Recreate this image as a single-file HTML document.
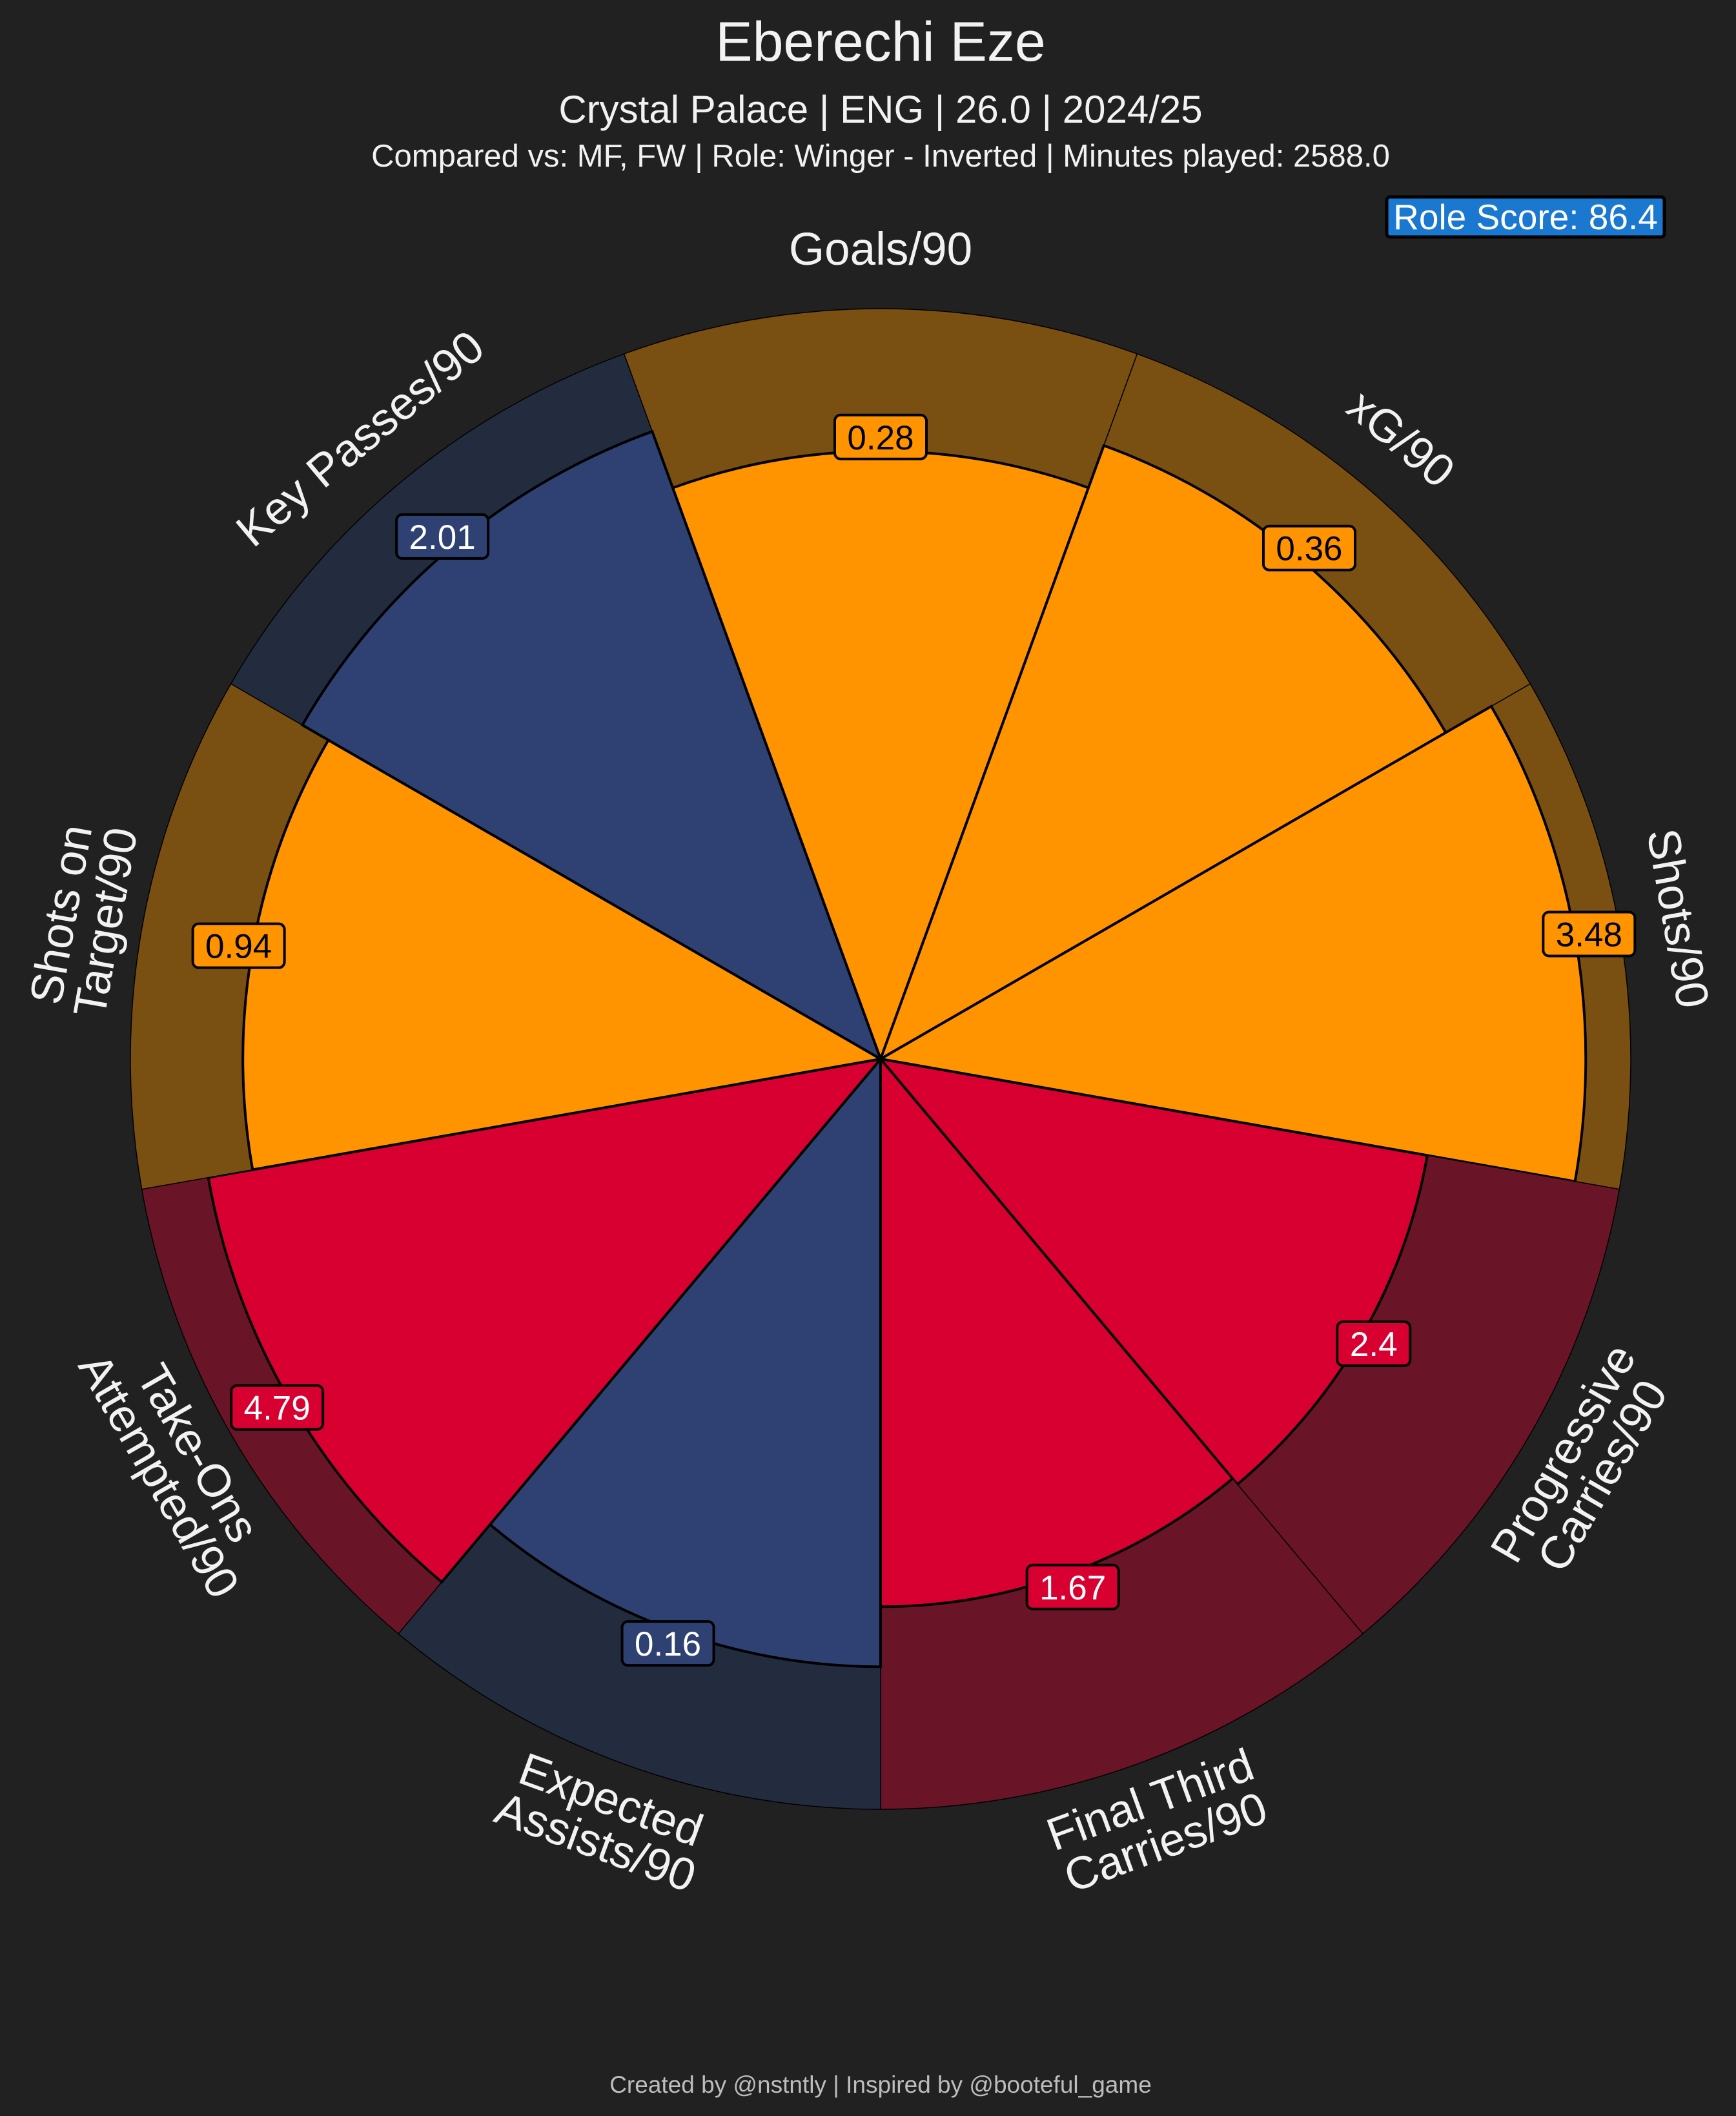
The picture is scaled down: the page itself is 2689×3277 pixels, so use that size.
<!DOCTYPE html>
<html><head><meta charset="utf-8">
<style>
html,body{margin:0;padding:0;background:#212121;}
svg{display:block;font-family:"Liberation Sans",sans-serif;}
</style></head>
<body>
<svg id="chart" width="2689" height="3277" viewBox="0 0 2689 3277" xmlns="http://www.w3.org/2000/svg">
<rect width="2689" height="3277" fill="#212121"/>
<text x="1364" y="94" text-anchor="middle" font-size="86" fill="#f2f2f2">Eberechi Eze</text>
<text x="1364" y="190" text-anchor="middle" font-size="60" fill="#f2f2f2">Crystal Palace | ENG | 26.0 | 2024/25</text>
<text x="1364" y="258" text-anchor="middle" font-size="49" fill="#f2f2f2">Compared vs: MF, FW | Role: Winger - Inverted | Minutes played: 2588.0</text>
<rect x="2148" y="305" width="430" height="62" rx="5" fill="#1a78d0" stroke="#000" stroke-width="5"/>
<text x="2363" y="355" text-anchor="middle" font-size="55" fill="#ffffff">Role Score: 86.4</text>
<g id="wedges"></g>
<g id="labels"></g>
<text x="1364" y="3241" text-anchor="middle" font-size="37" fill="#bdbdbd">Created by @nstntly | Inspired by @booteful_game</text>
</svg>
<script>
const categories = ["Goals/90","xG/90","Shots/90","Progressive|Carries/90","Final Third|Carries/90","Expected|Assists/90","Take-Ons|Attempted/90","Shots on|Target/90","Key Passes/90"];
const percentiles = [81,87,94,74,73,81,91,85,89];
const valueLabels = ["0.28","0.36","3.48","2.4","1.67","0.16","4.79","0.94","2.01"];
const groups = ["att","att","att","car","car","cre","car","att","cre"];

const cx=1364, cy=1640, R=1162;
const fill={att:"#ff9400",car:"#d80031",cre:"#2e4172"};
const bg={att:"#7a4f12",car:"#6a1428",cre:"#232c3f"};
const txt={att:"#000",car:"#fff",cre:"#fff"};
const NS="http://www.w3.org/2000/svg";
const step=360/categories.length;
function rScale(p){return R*p/100;}
function pt(a,r){const t=a*Math.PI/180;return [cx+r*Math.sin(t), cy-r*Math.cos(t)];}
function wedge(a0,a1,r){const p0=pt(a0,r),p1=pt(a1,r);return `M${cx},${cy} L${p0[0]},${p0[1]} A${r},${r} 0 0 1 ${p1[0]},${p1[1]} Z`;}
const wg=document.getElementById('wedges'), lg=document.getElementById('labels');
categories.forEach((c,i)=>{
  const a0=i*step-step/2, a1=a0+step, am=i*step, g=groups[i];
  const b=document.createElementNS(NS,'path');
  b.setAttribute('d',wedge(a0,a1,R));b.setAttribute('fill',bg[g]);b.setAttribute('stroke','#000');b.setAttribute('stroke-width','1.5');
  
  
  wg.appendChild(b);
  const rv=rScale(percentiles[i]);
  const v=document.createElementNS(NS,'path');
  v.setAttribute('d',wedge(a0,a1,rv));v.setAttribute('fill',fill[g]);v.setAttribute('stroke','#000');v.setAttribute('stroke-width','4');
  
  
  wg.appendChild(v);
  const lp=pt(am,rv+22), s=valueLabels[i], w=s.length*29+26;
  const rect=document.createElementNS(NS,'rect');
  rect.setAttribute('x',lp[0]-w/2);rect.setAttribute('y',lp[1]-34);rect.setAttribute('width',w);rect.setAttribute('height',68);rect.setAttribute('rx',9);
  rect.setAttribute('fill',fill[g]);rect.setAttribute('stroke','#000');rect.setAttribute('stroke-width','4');
  
  
  lg.appendChild(rect);
  const t=document.createElementNS(NS,'text');
  t.setAttribute('x',lp[0]);t.setAttribute('y',lp[1]+19);t.setAttribute('text-anchor','middle');t.setAttribute('font-size','53');t.setAttribute('fill',txt[g]);
  t.textContent=s;
  
  
  lg.appendChild(t);
  const cp=pt(am,1255);
  let rot=am; if(am>90&&am<270) rot=am-180; if(rot>180) rot-=360;
  const lines=c.split('|');
  const ct=document.createElementNS(NS,'text');
  ct.setAttribute('transform',`translate(${cp[0]},${cp[1]}) rotate(${rot})`);
  ct.setAttribute('text-anchor','middle');ct.setAttribute('font-size','71');ct.setAttribute('fill','#f2f2f2');
  
  
  const lh=70, y0=-(lines.length-1)*lh/2+25;
  lines.forEach((l,j)=>{const ts=document.createElementNS(NS,'tspan');ts.setAttribute('x',0);ts.setAttribute('y',y0+j*lh);ts.textContent=l;ct.appendChild(ts);});
  lg.appendChild(ct);
});
</script>
</body></html>
